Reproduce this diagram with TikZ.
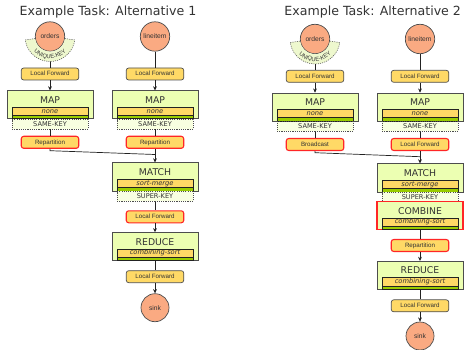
\documentclass[tikz,border=0pt]{standalone}
\usepackage{fontspec}
\setmainfont{Liberation Sans}
\newfontfamily\dejavu{DejaVu Sans}
\usetikzlibrary{arrows.meta,decorations.text,calc}
\definecolor{linec}{HTML}{222222}
\definecolor{bordc}{HTML}{4D4D4D}
\definecolor{txtc}{HTML}{333333}
\definecolor{srcfill}{RGB}{250,170,130}
\definecolor{yel}{RGB}{255,217,102}
\definecolor{redc}{RGB}{255,38,38}
\definecolor{opfill}{RGB}{236,255,178}
\definecolor{grn}{RGB}{153,204,0}
\definecolor{keyfill}{RGB}{248,255,224}
\definecolor{annfill}{RGB}{238,248,206}
\tikzset{
 every node/.style={text=txtc},
 srcnode/.style={circle, draw=bordc, line width=0.7pt, fill=srcfill, minimum size=29.4pt, inner sep=0pt, font=\fontsize{6.7}{8}\selectfont},
 sinknode/.style={srcnode, minimum size=28pt},
 shipbox/.style={draw=bordc, line width=0.7pt, fill=yel, rounded corners=2.5pt, minimum width=57.5pt, minimum height=12pt, inner sep=0pt, text height=4.5pt, text depth=0.6pt, font=\fontsize{6.2}{7}\selectfont},
 shipboxred/.style={shipbox, draw=redc, line width=1.1pt},
 opbox/.style={draw=bordc, line width=0.7pt, fill=opfill, minimum width=86pt, minimum height=28pt, inner sep=0pt},
 opboxred/.style={opbox, draw=redc, line width=1.1pt},
 optitle/.style={font=\dejavu\fontsize{9.3}{10}\selectfont, inner sep=0pt},
 stratbar/.style={draw=linec, line width=0.6pt, fill=yel, minimum width=76pt, minimum height=8.4pt, inner sep=0pt, text height=4.9pt, text depth=1.2pt, font=\dejavu\itshape\fontsize{6.7}{7}\selectfont},
 grnbar/.style={draw=linec, line width=0.6pt, fill=grn, minimum width=76pt, minimum height=3.4pt, inner sep=0pt},
 keybox/.style={draw=bordc, line width=0.5pt, dash pattern=on 1.1pt off 1.1pt, fill=keyfill, minimum width=76pt, minimum height=9.8pt, inner sep=0pt, font=\dejavu\fontsize{6.6}{7}\selectfont},
 ttl/.style={font=\dejavu\fontsize{12.6}{14}\selectfont, inner sep=0pt},
 conn/.style={draw=linec, line width=0.7pt},
 arr/.style={conn, -{Stealth[length=4.2pt,width=3.8pt]}},
 annline/.style={draw=bordc, line width=0.5pt, dash pattern=on 1.1pt off 1.1pt},
}
\newcommand\opblock[6]{%
  \node[#4, anchor=north] (#1) at (#2,#3) {};
  \node[optitle] (#1-t) at (#2,{#3+9.5}) {#5};
  \node[stratbar, anchor=north] (#1-s) at (#2,{#3+16.2}) {#6};
  \node[grnbar, anchor=north] (#1-g) at (#2,{#3+24.6}) {};
}
\newcommand\keyfor[2]{\node[keybox, anchor=north] (#1-k) at (#1.south) {#2};}
\newcommand\uniquekey[1]{%
  \fill[annfill] ($(#1)+(172:25)$) arc[start angle=172,end angle=8,radius=25]
    -- ($(#1)+(8:15.1)$) arc[start angle=8,end angle=172,radius=15.1] -- cycle;
  \draw[annline] ($(#1)+(172:15.1)$) -- ($(#1)+(172:25)$) arc[start angle=172,end angle=8,radius=25] -- ($(#1)+(8:15.1)$);
  \path[decorate, decoration={text along path, text={|\fontsize{5.8}{7}\selectfont\color{txtc}|UNIQUE-KEY}, text align=center}]
    ($(#1)+(160:22.2)$) arc[start angle=160,end angle=20,radius=22.2];
}
\begin{document}
\begin{tikzpicture}[x=1pt,y=-1pt]
\useasboundingbox (0,0) rectangle (466,350);
% ---------- Alternative 1 ----------
\node[ttl] (t1) at (108,12) {Example Task: Alternative 1};
\node[srcnode] (o1) at (50,36.5) {orders};
\node[srcnode] (l1) at (155,36.5) {lineitem};
\node[shipbox] (lf1a) at (50,74) {Local Forward};
\node[shipbox] (lf1b) at (155,74) {Local Forward};
\opblock{map1a}{50}{90.5}{opbox}{MAP}{none}
\keyfor{map1a}{SAME-KEY}
\opblock{map1b}{155}{90.5}{opbox}{MAP}{none}
\keyfor{map1b}{SAME-KEY}
\node[shipboxred] (rep1a) at (50,142.3) {Repartition};
\node[shipboxred] (rep1b) at (155,142.3) {Repartition};
\opblock{match1}{155}{162.5}{opbox}{MATCH}{sort-merge}
\keyfor{match1}{SUPER-KEY}
\node[shipboxred] (lf1c) at (155,216.8) {Local Forward};
\opblock{red1}{155}{232.3}{opbox}{REDUCE}{combining-sort}
\node[shipbox] (lf1d) at (155,276.7) {Local Forward};
\node[sinknode] (sink1) at (155,307.7) {sink};
\coordinate (j1a) at (50,150.7);
\coordinate (j1b) at (155,154.5);
\draw[conn] (o1) -- (lf1a);
\draw[arr] (lf1a) -- (map1a);
\draw[conn] (map1a-k) -- (rep1a);
\draw[conn] (l1) -- (lf1b);
\draw[arr] (lf1b) -- (map1b);
\draw[conn] (map1b-k) -- (rep1b);
\draw[conn] (rep1a.south) -- (j1a) -- (j1b);
\draw[arr] (rep1b) -- (match1);
\draw[conn] (match1-k) -- (lf1c);
\draw[arr] (lf1c) -- (red1);
\draw[conn] (red1) -- (lf1d);
\draw[arr] (lf1d) -- (sink1);
\uniquekey{o1}
% ---------- Alternative 2 ----------
\node[ttl] (t2) at (372.7,12) {Example Task: Alternative 2};
\node[srcnode] (o2) at (315,39) {orders};
\node[srcnode] (l2) at (420,39) {lineitem};
\node[shipbox] (lf2a) at (315,76.3) {Local Forward};
\node[shipbox] (lf2b) at (420,76.3) {Local Forward};
\opblock{map2a}{315}{92.7}{opbox}{MAP}{none}
\keyfor{map2a}{SAME-KEY}
\opblock{map2b}{420}{92.7}{opbox}{MAP}{none}
\keyfor{map2b}{SAME-KEY}
\node[shipboxred] (bc2) at (315,144.5) {Broadcast};
\node[shipboxred] (lf2c) at (420,144.5) {Local Forward};
\opblock{match2}{420}{163.5}{opbox}{MATCH}{sort-merge}
\keyfor{match2}{SUPER-KEY}
\opblock{comb2}{420}{201.3}{opboxred}{COMBINE}{combining-sort}
\node[shipboxred] (rep2) at (420,245.5) {Repartition};
\opblock{red2}{420}{261}{opbox}{REDUCE}{combining-sort}
\node[shipbox] (lf2d) at (420,305.8) {Local Forward};
\node[sinknode] (sink2) at (420,336) {sink};
\coordinate (j2a) at (315,152.7);
\coordinate (j2b) at (420,156.7);
\draw[conn] (o2) -- (lf2a);
\draw[arr] (lf2a) -- (map2a);
\draw[conn] (map2a-k) -- (bc2);
\draw[conn] (l2) -- (lf2b);
\draw[arr] (lf2b) -- (map2b);
\draw[conn] (map2b-k) -- (lf2c);
\draw[conn] (bc2.south) -- (j2a) -- (j2b);
\draw[arr] (lf2c) -- (match2);
\draw[conn] (comb2) -- (rep2);
\draw[arr] (rep2) -- (red2);
\draw[conn] (red2) -- (lf2d);
\draw[arr] (lf2d) -- (sink2);
\uniquekey{o2}
\end{tikzpicture}
\end{document}
